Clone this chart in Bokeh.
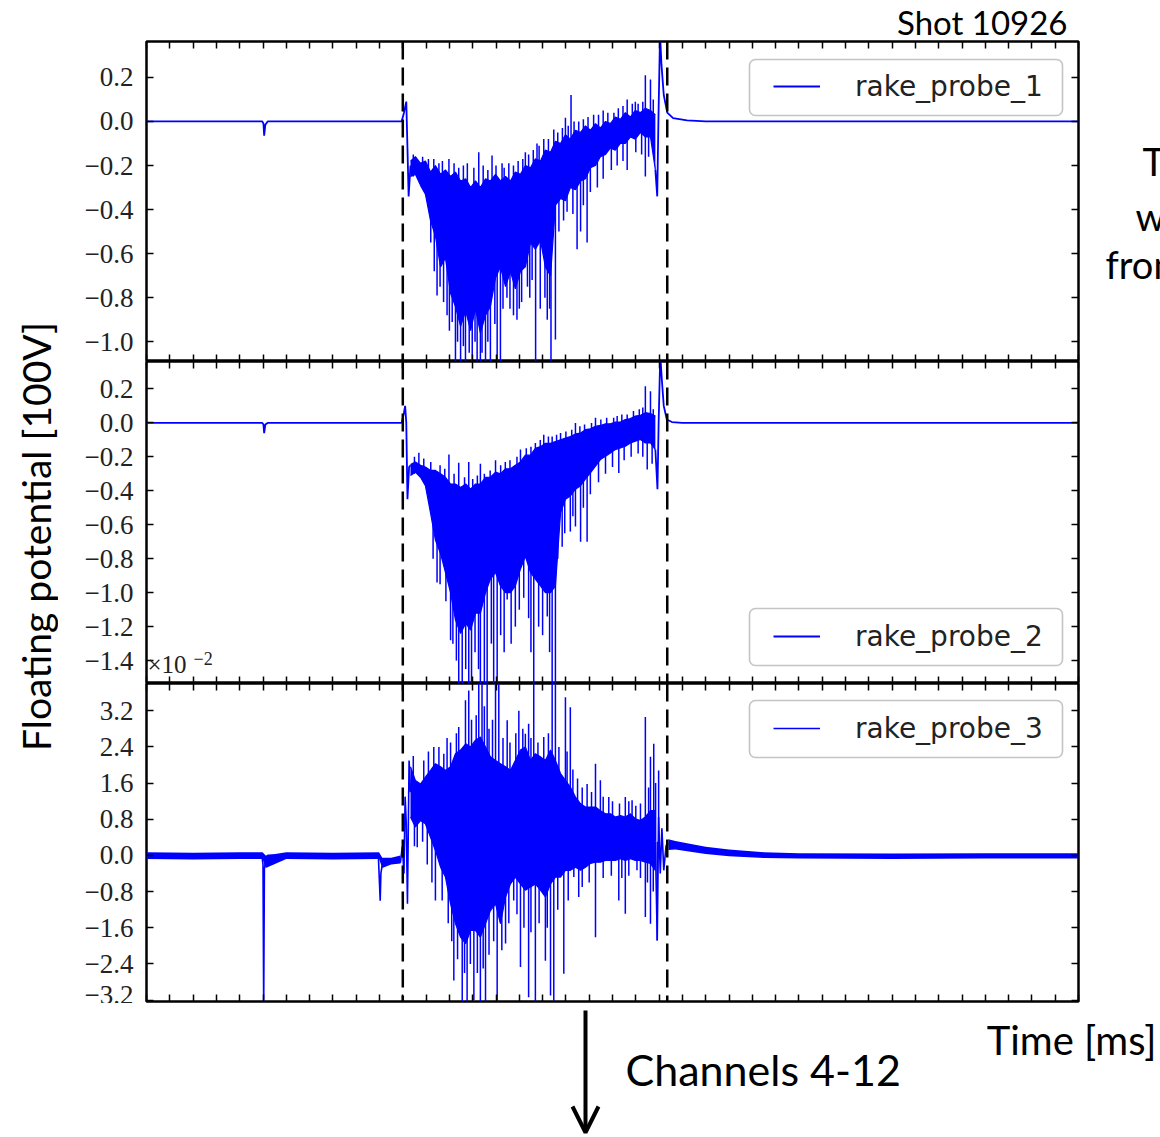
from bokeh.plotting import figure
from bokeh.models import (Range1d, LinearAxis, FixedTicker, CustomJSTickFormatter, Span,
                          Label, Legend, LegendItem, BoxAnnotation, Arrow, OpenHead)
from bokeh.core.properties import value
from bokeh.layouts import row, column
from bokeh.embed import file_html
from bokeh.resources import INLINE

# ------------------------------------------------------------------ data
T_RANGE = (0.0, 40.0)                       # time [ms]
x_ticks = list(range(0, 41))
plasma_marks = [11.0, 22.35]                # dashed lines (plasma start / end)

names = ["rake_probe_1", "rake_probe_2", "rake_probe_3"]
y_ranges = [(-1.0897, 0.363), (-1.5347, 0.3616), (-3.232, 3.803)]
p1_ticks = [0.2, 0.0, -0.2, -0.4, -0.6, -0.8, -1.0]
p2_ticks = [0.2, 0.0, -0.2, -0.4, -0.6, -0.8, -1.0, -1.2, -1.4]
p3_ticks = [3.2, 2.4, 1.6, 0.8, 0.0, -0.8, -1.6, -2.4, -3.2]   # x 10^-2

# dense plasma phase: envelope (max / min) on a common time grid
band_t = [11.33, 11.54, 11.76, 11.97, 12.19, 12.40, 12.62, 12.83, 13.05, 13.26,
          13.48, 13.70, 13.91, 14.12, 14.33, 14.55, 14.76, 14.98, 15.19, 15.41,
          15.62, 15.83, 16.05, 16.26, 16.48, 16.69, 16.91, 17.12, 17.34, 17.55,
          17.77, 17.98, 18.19, 18.41, 18.63, 18.84, 19.05, 19.27, 19.48, 19.70,
          19.91, 20.12, 20.34, 20.55, 20.77, 20.98, 21.20, 21.41, 21.63, 21.84]

p1_hi = [-0.18, -0.16, -0.19, -0.18, -0.23, -0.20, -0.24, -0.22, -0.25, -0.23,
         -0.27, -0.26, -0.30, -0.27, -0.30, -0.26, -0.27, -0.24, -0.27, -0.25,
         -0.27, -0.23, -0.24, -0.20, -0.21, -0.17, -0.18, -0.13, -0.14, -0.09,
         -0.10, -0.06, -0.08, -0.04, -0.05, -0.02, -0.04, -0.01, -0.03, 0.00,
         -0.01, 0.02, 0.01, 0.04, 0.02, 0.05, 0.04, 0.06, 0.05, 0.03]
p1_lo = [-0.25, -0.24, -0.29, -0.33, -0.45, -0.52, -0.66, -0.62, -0.78, -0.84,
         -0.93, -0.86, -0.95, -0.85, -0.96, -0.88, -0.84, -0.71, -0.66, -0.75,
         -0.68, -0.76, -0.68, -0.66, -0.55, -0.58, -0.54, -0.66, -0.70, -0.38,
         -0.35, -0.36, -0.30, -0.31, -0.27, -0.26, -0.21, -0.20, -0.16, -0.15,
         -0.12, -0.13, -0.10, -0.10, -0.07, -0.08, -0.05, -0.07, -0.07, -0.22]

p2_hi = [-0.245, -0.23, -0.25, -0.26, -0.28, -0.28, -0.30, -0.32, -0.36, -0.36,
         -0.38, -0.36, -0.39, -0.36, -0.36, -0.32, -0.32, -0.29, -0.30, -0.27,
         -0.27, -0.25, -0.23, -0.19, -0.19, -0.15, -0.14, -0.12, -0.12, -0.11,
         -0.10, -0.09, -0.08, -0.065, -0.06, -0.04, -0.035, -0.02, -0.015, -0.005,
         -0.005, 0.005, 0.005, 0.02, 0.025, 0.04, 0.045, 0.06, 0.055, 0.04]
p2_lo = [-0.31, -0.29, -0.32, -0.37, -0.53, -0.69, -0.77, -0.88, -1.00, -1.16,
         -1.24, -1.18, -1.22, -1.12, -1.12, -1.00, -0.92, -0.88, -0.96, -1.00,
         -1.00, -0.96, -0.86, -0.785, -0.88, -0.92, -0.96, -1.00, -1.00, -0.96,
         -0.53, -0.45, -0.43, -0.39, -0.37, -0.33, -0.295, -0.255, -0.216, -0.196,
         -0.177, -0.157, -0.147, -0.137, -0.118, -0.108, -0.098, -0.118, -0.118, -0.157]

p3_hi = [1.96, 1.66, 1.58, 1.73, 1.88, 2.03, 1.96, 1.88, 1.96, 2.25,
         2.33, 2.47, 2.40, 2.55, 2.62, 2.40, 2.18, 2.10, 2.03, 1.96,
         1.88, 2.10, 2.33, 2.40, 2.10, 2.25, 2.18, 2.10, 2.33, 2.10,
         1.81, 1.66, 1.51, 1.29, 1.14, 1.07, 1.07, 1.07, 0.99, 0.92,
         0.92, 0.85, 0.88, 0.85, 0.92, 0.81, 0.77, 0.85, 0.99, 0.99]
p3_lo = [0.85, 0.63, 0.77, 0.70, 0.40, 0.11, -0.26, -0.48, -1.07, -1.51,
         -1.81, -1.95, -1.66, -1.66, -1.81, -1.51, -1.22, -1.07, -1.51, -0.92,
         -0.63, -0.48, -0.63, -0.77, -0.70, -0.63, -0.77, -0.92, -0.63, -0.48,
         -0.48, -0.33, -0.33, -0.26, -0.33, -0.26, -0.18, -0.15, -0.15, -0.11,
         -0.11, -0.11, -0.07, -0.11, -0.07, -0.11, -0.11, -0.15, -0.18, -0.33]

# individual spikes: (time, max, min)
p1_spikes = [
    (12.33, -0.17, -0.30), (12.47, -0.35, -0.79), (12.60, -0.40, -0.75), (12.75, -0.40, -0.82),
    (12.90, -0.50, -0.88), (12.98, -0.17, -0.35), (13.12, -0.50, -0.91), (13.26, -0.60, -1.12),
    (13.48, -0.60, -1.12), (13.69, -0.60, -1.12), (13.77, -0.19, -0.40), (13.98, -0.60, -1.12),
    (14.19, -0.60, -1.12), (14.26, -0.14, -0.40), (14.33, -0.60, -1.12), (14.55, -0.60, -1.12),
    (14.76, -0.60, -1.12), (14.83, -0.155, -0.35), (15.05, -0.60, -1.12), (15.19, -0.50, -1.12),
    (15.26, -0.19, -0.35), (15.47, -0.50, -0.80), (15.60, -0.50, -0.85), (15.90, -0.50, -0.90),
    (16.10, -0.50, -0.82), (16.26, -0.14, -0.35), (16.45, -0.50, -0.80), (16.70, -0.40, -1.12),
    (16.76, -0.10, -0.30), (16.90, -0.50, -0.85), (17.05, -0.08, -0.25), (17.20, -0.50, -0.90),
    (17.36, -0.40, -1.12), (17.48, -0.036, -0.25), (17.55, -0.30, -0.99), (17.98, 0.017, -0.15),
    (18.05, -0.25, -0.41), (18.22, 0.12, -0.15), (18.48, -0.20, -0.58), (18.63, -0.20, -0.50),
    (18.91, -0.20, -0.55), (19.19, 0.03, -0.10), (20.06, 0.04, -0.05), (20.63, 0.10, -0.22),
    (20.98, 0.09, -0.02), (21.41, 0.21, -0.25), (21.63, 0.19, 0.00),
    (11.45, -0.15, -0.25), (11.85, -0.16, -0.25), (12.10, -0.17, -0.30), (12.55, -0.19, -0.30),
    (12.70, -0.18, -0.30), (13.20, -0.19, -0.30), (13.40, -0.21, -0.35), (13.60, -0.20, -0.35),
    (14.05, -0.21, -0.35), (14.45, -0.20, -0.35), (14.65, -0.22, -0.35), (15.00, -0.20, -0.35),
    (15.35, -0.21, -0.35), (15.55, -0.19, -0.35), (15.75, -0.20, -0.35), (15.95, -0.18, -0.30),
    (16.15, -0.17, -0.30), (16.40, -0.15, -0.30), (16.60, -0.13, -0.30), (16.85, -0.11, -0.25),
    (17.25, -0.08, -0.25), (17.65, -0.05, -0.20), (17.85, -0.03, -0.20), (18.10, -0.02, -0.20),
    (18.35, 0.00, -0.15), (18.55, 0.00, -0.15), (18.75, 0.01, -0.15), (18.95, 0.02, -0.10),
    (19.40, 0.03, -0.10), (19.60, 0.05, -0.10), (19.80, 0.04, -0.10), (20.25, 0.06, -0.05),
    (20.45, 0.07, -0.05), (20.85, 0.08, 0.00), (21.10, 0.08, 0.00), (21.30, 0.09, 0.00),
    (21.75, 0.10, 0.00),
    (12.20, -0.30, -0.55), (12.35, -0.35, -0.68), (13.00, -0.50, -0.95), (13.35, -0.60, -1.00),
    (13.60, -0.60, -1.02), (13.85, -0.60, -1.05), (14.10, -0.60, -1.00), (14.40, -0.60, -1.05),
    (14.65, -0.60, -1.00), (14.95, -0.50, -0.92), (15.30, -0.50, -0.85), (15.75, -0.50, -0.88),
    (16.00, -0.50, -0.85), (16.35, -0.45, -0.75), (16.55, -0.45, -0.72), (17.10, -0.45, -0.80),
    (17.30, -0.45, -0.85), (17.70, -0.25, -0.50), (17.90, -0.25, -0.45), (18.30, -0.20, -0.42),
    (18.75, -0.15, -0.38), (19.05, -0.15, -0.32), (19.35, -0.10, -0.30), (19.60, -0.10, -0.26),
    (19.95, -0.05, -0.22), (20.20, -0.05, -0.20), (20.45, -0.05, -0.18), (21.00, 0.00, -0.14),
    (21.25, 0.00, -0.15), (21.55, 0.00, -0.16)]

p2_spikes = [
    (11.69, -0.176, -0.30), (12.47, -0.40, -0.94), (12.98, -0.186, -0.40), (13.05, -0.50, -1.28),
    (13.40, -0.235, -1.60), (13.55, -0.60, -1.60), (13.83, -0.23, -1.60), (14.33, -0.24, -1.60),
    (14.50, -0.60, -1.60), (14.62, -0.60, -1.60), (14.98, -0.22, -0.60), (15.05, -0.60, -1.60),
    (15.48, -0.50, -1.04), (15.83, -0.50, -1.20), (16.05, -0.157, -0.50), (16.19, -0.50, -1.03),
    (16.62, -0.50, -1.60), (16.69, -0.118, -0.40), (16.83, -0.50, -1.20), (17.05, -0.07, -0.30),
    (17.20, -0.50, -1.14), (17.41, -0.08, -1.60), (17.55, -0.50, -1.60), (17.77, -0.06, -0.30),
    (17.84, -0.30, -0.73), (18.19, -0.30, -0.64), (18.41, 0.00, -0.61), (18.63, -0.30, -0.70),
    (18.91, -0.30, -0.70), (19.27, 0.03, -0.10), (20.05, 0.03, -0.10), (20.27, -0.10, -0.295),
    (20.63, 0.05, -0.05), (21.41, 0.216, 0.00), (21.49, -0.05, -0.275), (21.63, 0.186, 0.00),
    (11.50, -0.20, -0.30), (11.90, -0.21, -0.30), (12.20, -0.23, -0.35), (12.60, -0.25, -0.40),
    (12.80, -0.27, -0.40), (13.20, -0.30, -0.45), (13.65, -0.32, -0.50), (14.00, -0.33, -0.50),
    (14.20, -0.31, -0.50), (14.50, -0.30, -0.50), (14.75, -0.28, -0.50), (15.20, -0.25, -0.45),
    (15.40, -0.23, -0.45), (15.60, -0.22, -0.45), (15.90, -0.20, -0.40), (16.30, -0.15, -0.40),
    (16.50, -0.14, -0.35), (16.90, -0.10, -0.30), (17.25, -0.08, -0.30), (17.60, -0.07, -0.25),
    (18.00, -0.05, -0.20), (18.25, -0.04, -0.20), (18.60, -0.02, -0.15), (18.80, -0.01, -0.15),
    (19.10, 0.00, -0.10), (19.50, 0.02, -0.10), (19.75, 0.03, -0.10), (20.20, 0.04, -0.05),
    (20.40, 0.05, -0.05), (20.90, 0.07, 0.00), (21.15, 0.08, 0.00), (21.30, 0.09, 0.00),
    (21.75, 0.08, 0.00),
    (12.30, -0.40, -0.80), (12.60, -0.45, -0.95), (12.85, -0.50, -1.05), (13.15, -0.60, -1.30),
    (13.30, -0.60, -1.40), (13.70, -0.60, -1.45), (13.95, -0.60, -1.60), (14.10, -0.60, -1.35),
    (14.25, -0.60, -1.45), (14.80, -0.60, -1.30), (14.90, -0.60, -1.60), (15.20, -0.60, -1.25),
    (15.35, -0.60, -1.35), (15.65, -0.60, -1.30), (16.00, -0.50, -1.10), (16.40, -0.50, -1.15),
    (16.50, -0.50, -1.35), (17.00, -0.50, -1.25), (17.30, -0.50, -1.35), (17.65, -0.30, -0.80),
    (17.95, -0.30, -0.65), (18.30, -0.30, -0.55), (18.75, -0.20, -0.50), (19.05, -0.20, -0.42),
    (19.40, -0.10, -0.35), (19.70, -0.10, -0.30), (20.00, -0.10, -0.26), (20.50, -0.05, -0.22),
    (20.80, -0.05, -0.20), (21.10, 0.00, -0.18), (21.30, 0.00, -0.20), (21.70, 0.00, -0.24)]

p3_spikes = [
    (11.62, 1.00, 0.18), (12.33, 2.40, 0.50), (12.40, 0.50, -1.00), (12.55, 2.40, 0.50),
    (12.69, 0.50, -1.00), (12.76, 2.25, 0.50), (13.19, 0.50, -2.77), (13.40, 2.84, 0.50),
    (13.55, 0.50, -3.30), (13.69, 3.43, 0.50), (13.76, 0.50, -3.30), (13.83, 3.65, 0.50),
    (14.05, 0.50, -3.20), (14.26, 3.90, 0.50), (14.33, 0.50, -3.30), (14.40, 3.90, 0.50),
    (14.55, 0.50, -3.30), (14.62, 3.90, 0.50), (14.98, 3.90, 0.50), (15.05, 0.50, -3.30),
    (15.12, 3.90, 0.50), (15.41, 0.50, -1.95), (15.48, 2.99, 0.50), (15.76, 0.50, -1.00),
    (15.98, 3.20, 0.50), (16.05, 0.50, -2.47), (16.26, 2.69, 0.50), (16.40, 2.91, -3.14),
    (16.62, 3.90, 0.50), (16.69, 0.50, -3.30), (17.05, 2.62, 0.50), (17.12, 0.50, -2.33),
    (17.34, 0.50, -3.10), (17.41, 3.90, 0.50), (17.48, 0.50, -3.30), (17.55, 3.90, 0.50),
    (17.91, 0.50, -2.62), (17.98, 3.50, 0.50), (18.19, 3.28, 0.50), (18.34, 0.30, -0.48),
    (18.55, 0.30, -0.92), (18.91, 1.58, 0.30), (19.27, 2.03, -1.81), (19.48, 1.66, 0.30),
    (19.84, 1.29, 0.30), (20.27, 0.30, -1.00), (20.55, 1.29, -1.29), (20.84, 1.22, 0.30),
    (21.05, 0.30, -0.33), (21.41, 3.06, -1.36), (21.63, 2.18, -1.51), (21.77, 2.47, 0.30),
    (21.92, 0.30, -1.88), (21.98, 1.88, 0.30),
    (11.45, 2.20, 0.80), (11.90, 2.10, 0.80), (12.10, 2.30, 0.80), (12.90, 2.60, 0.50),
    (13.05, 2.50, 0.50), (13.30, 2.70, 0.50), (13.95, 3.00, 0.50), (14.15, 3.10, 0.50),
    (14.50, 3.30, 0.50), (14.70, 2.80, 0.50), (14.85, 3.00, 0.50), (15.30, 2.60, 0.50),
    (15.60, 2.50, 0.50), (15.85, 2.70, 0.50), (16.15, 2.80, 0.50), (16.50, 2.60, 0.50),
    (16.80, 2.50, 0.50), (17.25, 2.70, 0.50), (17.70, 2.40, 0.50), (18.05, 2.30, 0.30),
    (18.30, 1.90, 0.30), (18.50, 1.70, 0.30), (18.70, 1.50, 0.30), (19.10, 1.40, 0.30),
    (19.60, 1.30, 0.30), (20.00, 1.20, 0.30), (20.30, 1.15, 0.30), (20.70, 1.20, 0.30),
    (21.00, 1.10, 0.30), (21.20, 1.15, 0.30), (21.55, 1.50, 0.30), (21.85, 1.60, 0.30),
    (11.50, 0.80, 0.20), (11.85, 0.80, 0.30), (12.05, 0.80, -0.20), (12.25, 0.50, -0.60),
    (12.95, 0.50, -1.50), (13.10, 0.50, -1.90), (13.35, 0.50, -2.30), (13.65, 0.50, -2.60),
    (13.90, 0.50, -2.40), (14.20, 0.50, -2.60), (14.45, 0.50, -2.50), (14.70, 0.50, -2.20),
    (14.90, 0.50, -1.90), (15.25, 0.50, -2.10), (15.55, 0.50, -1.50), (15.90, 0.50, -1.30),
    (16.20, 0.50, -1.60), (16.50, 0.50, -1.70), (16.85, 0.50, -1.50), (17.20, 0.50, -1.60),
    (17.65, 0.50, -1.20), (18.10, 0.30, -1.00), (18.70, 0.30, -0.70), (19.00, 0.30, -0.60),
    (19.60, 0.30, -0.50), (19.95, 0.30, -0.45), (20.40, 0.30, -0.50), (20.70, 0.30, -0.45),
    (21.20, 0.30, -0.50), (21.50, 0.30, -0.60), (21.75, 0.30, -0.80)]

# quiet phases (before / after the discharge)
p1_pre_t = [0.0, 2.0, 3.5, 4.97, 5.02, 5.05, 5.10, 5.20, 8.0, 10.3, 10.95, 11.05, 11.15, 11.20, 11.25, 11.33]
p1_pre_v = [0.0, 0.0, 0.0, 0.0, -0.01, -0.065, -0.015, 0.0, 0.0, 0.0, 0.0, 0.04, 0.09, -0.12, -0.34, -0.20]
p1_post_t = [21.84, 21.92, 21.97, 22.04, 22.10, 22.20, 22.35, 22.60, 23.2, 24.0, 40.0]
p1_post_v = [-0.22, -0.34, 0.0, 0.40, 0.26, 0.12, 0.04, 0.015, 0.005, 0.0, 0.0]

p2_pre_t = [0.0, 4.97, 5.02, 5.05, 5.10, 5.20, 10.95, 11.05, 11.10, 11.15, 11.20, 11.27, 11.33]
p2_pre_v = [0.0, 0.0, -0.01, -0.06, -0.01, 0.0, 0.0, 0.06, 0.10, 0.0, -0.45, -0.26, -0.25]
p2_post_t = [21.84, 21.93, 21.98, 22.05, 22.12, 22.20, 22.33, 22.55, 23.0, 40.0]
p2_post_v = [-0.157, -0.39, 0.0, 0.40, 0.25, 0.10, 0.02, 0.005, 0.0, 0.0]

p3_pre_t = [0.0, 4.95, 5.00, 5.03, 5.06, 5.10, 5.20, 9.95, 10.03, 10.06, 10.12, 10.3, 10.9,
            10.98, 11.05, 11.10, 11.15, 11.20, 11.27, 11.33]
p3_pre_v = [0.0, 0.0, -0.2, -3.4, -0.3, -0.15, 0.0, 0.0, -1.0, -0.4, -0.2, -0.15, -0.15,
            0.2, -0.4, 1.3, 0.7, -1.07, 2.1, 1.4]
p3_pre_band_t = [0.0, 2.0, 4.0, 4.98, 5.12, 6.0, 8.0, 9.98, 10.12, 10.5, 10.9]
p3_pre_band_hi = [0.07, 0.06, 0.07, 0.07, 0.0, 0.07, 0.06, 0.07, -0.05, -0.05, 0.0]
p3_pre_band_lo = [-0.08, -0.09, -0.08, -0.08, -0.28, -0.08, -0.09, -0.08, -0.28, -0.20, -0.18]
p3_post_t = [21.84, 21.92, 21.98, 22.05, 22.12, 22.20, 22.30, 22.40]
p3_post_v = [0.30, -1.88, 0.85, -0.40, 0.60, -0.33, 0.22, 0.25]
p3_post_band_t = [22.4, 22.7, 23.2, 24.0, 25.0, 26.5, 28.0, 32.0, 36.0, 40.0]
p3_post_band_hi = [0.36, 0.32, 0.27, 0.19, 0.13, 0.07, 0.05, 0.04, 0.05, 0.05]
p3_post_band_lo = [0.12, 0.13, 0.09, 0.03, -0.02, -0.06, -0.07, -0.08, -0.07, -0.07]

# ------------------------------------------------------------------ geometry (page pixels)
FRAME_L, FRAME_R = 146, 1078
FRAMES = [(41, 361), (361, 683), (683, 1001)]
LEFT_W = 58
RIGHT_X = 1080
MID_W = 1160 - LEFT_W
PANEL_W = RIGHT_X - LEFT_W
TOP_H, BOT_TOP = 39, 1003
BLUE = "#0000ff"
SANS = "Lato"
MID = 0.387      # Lato: distance from baseline to the middle of the text box, in em


def tx(px):
    return T_RANGE[0] + (px - FRAME_L) / (FRAME_R - FRAME_L) * (T_RANGE[1] - T_RANGE[0])


def vy(px, k):
    top, bot = FRAMES[k]
    lo, hi = y_ranges[k]
    return hi - (px - top) / (bot - top) * (hi - lo)


fmt = CustomJSTickFormatter(code="return (tick < -1e-9 ? '\u2212' : '') + Math.abs(tick).toFixed(1);")


def strip(w, h):
    """plain drawing area whose data units are pixels from its top-left corner"""
    return figure(width=w, height=h, title=None, x_range=Range1d(0, w), y_range=Range1d(h, 0),
                  x_axis_type=None, y_axis_type=None, output_backend="svg", toolbar_location=None,
                  min_border=0, outline_line_color=None)


def text_at(fig, x, baseline, txt, size, align="left", font=SANS, color="black"):
    fig.add_layout(Label(x=x, y=baseline - MID * size, text=txt, text_align=align,
                         text_baseline="middle", text_font=font, text_font_size=f"{size}px",
                         text_color=color))


def make_panel(k, height, border_top, border_bottom, yticks):
    p = figure(width=PANEL_W, height=height, title=None,
               x_range=Range1d(*T_RANGE), y_range=Range1d(*y_ranges[k]),
               x_axis_type=None, y_axis_type=None,
               output_backend="svg", toolbar_location=None,
               min_border_left=FRAME_L - LEFT_W, min_border_right=RIGHT_X - FRAME_R,
               min_border_top=border_top, min_border_bottom=border_bottom)
    p.outline_line_color = "black"
    p.outline_line_width = 2.5
    common = dict(major_tick_in=7, major_tick_out=0, minor_tick_in=0, minor_tick_out=0,
                  axis_line_color=None, major_tick_line_color="black", major_tick_line_width=1.5)
    p.add_layout(LinearAxis(ticker=FixedTicker(ticks=yticks), formatter=fmt,
                            major_label_standoff=13, major_label_text_font="Liberation Serif",
                            major_label_text_font_size="27px", major_label_text_color="#222222",
                            **common), "left")
    p.add_layout(LinearAxis(ticker=FixedTicker(ticks=yticks), major_label_text_font_size="0px",
                            major_label_standoff=0, **common), "right")
    for side in ("above", "below"):
        p.add_layout(LinearAxis(ticker=FixedTicker(ticks=x_ticks), major_label_text_font_size="0px",
                                major_label_standoff=0, **common), side)
    return p


def draw_trace(p, hi, lo, spikes, pre_t, pre_v, post_t, post_v, lw=1.8):
    st = [s[0] for s in spikes]
    sh = [s[1] for s in spikes]
    sl = [s[2] for s in spikes]
    p.varea(x=band_t, y1=lo, y2=hi, fill_color=BLUE, fill_alpha=1.0)
    p.line(band_t, hi, line_color=BLUE, line_width=1.2)
    p.line(band_t, lo, line_color=BLUE, line_width=1.2)
    p.segment(x0=st, y0=sl, x1=st, y1=sh, line_color=BLUE, line_width=1.5)
    r = p.line(pre_t, pre_v, line_color=BLUE, line_width=lw)
    p.line(post_t, post_v, line_color=BLUE, line_width=lw)
    return r


def add_legend(p, k, r, box_top, box_bottom):
    p.add_layout(BoxAnnotation(left=tx(749), right=tx(1062), top=vy(box_top, k), bottom=vy(box_bottom, k),
                               fill_color="white", fill_alpha=1.0, line_color="#3c3c3c",
                               line_width=1.6, border_radius=6))
    frame_bottom = FRAMES[k][1]
    leg = Legend(items=[LegendItem(label=value(names[k]), renderers=[r])],
                 location=(773 - FRAME_L, frame_bottom - box_bottom + 11),
                 padding=10, margin=0, spacing=0, glyph_width=47, glyph_height=36,
                 label_height=36, label_standoff=35, label_text_font="DejaVu Sans",
                 label_text_font_size="28px", label_text_color="#222222",
                 border_line_color=None, background_fill_alpha=0.0)
    p.add_layout(leg)


def add_marks(p):
    for t in plasma_marks:
        p.add_layout(Span(location=t, dimension="height", line_color="black",
                          line_width=2.5, line_dash="18 8"))


# ---------------- panel 1
p1 = make_panel(0, FRAMES[0][1] - TOP_H, FRAMES[0][0] - TOP_H, 0, p1_ticks)
r1 = draw_trace(p1, p1_hi, p1_lo, p1_spikes, p1_pre_t, p1_pre_v, p1_post_t, p1_post_v)
add_marks(p1)
add_legend(p1, 0, r1, 59, 115)

# ---------------- panel 2
p2 = make_panel(1, FRAMES[1][1] - FRAMES[1][0], 0, 0, p2_ticks)
r2 = draw_trace(p2, p2_hi, p2_lo, p2_spikes, p2_pre_t, p2_pre_v, p2_post_t, p2_post_v)
add_marks(p2)
add_legend(p2, 1, r2, 608, 665)
p2.add_layout(Label(x=tx(147), y=vy(664, 1), text="\u00d710", text_align="left", text_baseline="middle",
                    text_font="Liberation Serif", text_font_size="25px", text_color="#222222"))
p2.add_layout(Label(x=tx(193), y=vy(658, 1), text="\u22122", text_align="left", text_baseline="middle",
                    text_font="Liberation Serif", text_font_size="18px", text_color="#222222"))

# ---------------- panel 3
p3 = make_panel(2, BOT_TOP - FRAMES[2][0], 0, BOT_TOP - FRAMES[2][1], p3_ticks)
p3.varea(x=p3_pre_band_t, y1=p3_pre_band_lo, y2=p3_pre_band_hi, fill_color=BLUE)
p3.varea(x=p3_post_band_t, y1=p3_post_band_lo, y2=p3_post_band_hi, fill_color=BLUE)
r3 = draw_trace(p3, p3_hi, p3_lo, p3_spikes, p3_pre_t, p3_pre_v, p3_post_t, p3_post_v, lw=1.6)
add_marks(p3)
add_legend(p3, 2, r3, 700, 757)

# ---------------- surrounding texts
top = strip(MID_W, TOP_H)
text_at(top, 1067 - LEFT_W, 34, "Shot 10926", 33, align="right")

right = strip(1160 - RIGHT_X, BOT_TOP - TOP_H)
for txt, px, py in (("T", 1142, 175), ("w", 1135, 230), ("from", 1105, 278)):
    text_at(right, px - RIGHT_X, py - TOP_H, txt, 38)

bottom = strip(MID_W, 1137 - BOT_TOP)
text_at(bottom, 1156 - LEFT_W, 1055 - BOT_TOP, "Time [ms]", 40, align="right")
text_at(bottom, 625 - LEFT_W, 1086 - BOT_TOP, "Channels 4-12", 43)
bottom.add_layout(Arrow(x_start=585 - LEFT_W, y_start=1010 - BOT_TOP, x_end=585 - LEFT_W, y_end=1132 - BOT_TOP,
                        line_color="black", line_width=4,
                        end=OpenHead(size=26, line_width=4, line_color="black")))

left = strip(LEFT_W, 1137)
left.add_layout(Label(x=35, y=536, text="Floating potential [100V]",
                      angle=90, angle_units="deg", text_align="center", text_baseline="middle",
                      text_font=SANS, text_font_size="39px", text_color="black"))

mid = column(top, row(column(p1, p2, p3, spacing=0), right, spacing=0), bottom, spacing=0)
layout = row(left, mid, spacing=0)
open("out.html", "w").write(file_html(layout, INLINE))
